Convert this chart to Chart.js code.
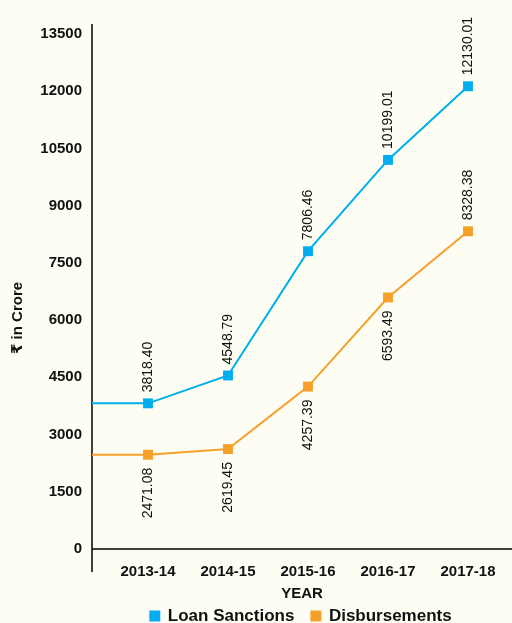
<!DOCTYPE html>
<html><head><meta charset="utf-8">
<script src="https://cdn.jsdelivr.net/npm/chart.js@4.4.0/dist/chart.umd.min.js"></script>
<style>
html,body{margin:0;padding:0;background:#FEFDF3;}
#wrap{width:512px;height:623px;position:relative;}
</style></head><body>
<div id="wrap"><canvas id="c" width="512" height="623"></canvas></div>
<script>
// ---- data ----
const categories = ['2013-14', '2014-15', '2015-16', '2016-17', '2017-18'];
const loanSanctions = [3818.40, 4548.79, 7806.46, 10199.01, 12130.01];
const disbursements = [2471.08, 2619.45, 4257.39, 6593.49, 8328.38];
const yTicks = [0, 1500, 3000, 4500, 6000, 7500, 9000, 10500, 12000, 13500];
const seriesNames = ['Loan Sanctions', 'Disbursements'];
const yTitle = '₹ in Crore';
const xTitle = 'YEAR';

// ---- style ----
const FONT = '"Liberation Sans", Arial, "DejaVu Sans", sans-serif';
const BLUE = '#00AEEF';
const ORANGE = '#F5A02A';
const X_MIN = -0.7, X_MAX = 4.55;
const labelPlacement = [
  ['above', 'above', 'above', 'above', 'above'],
  ['below', 'below', 'below', 'below', 'above']
];

function toPoints(values) {
  // line enters from the value axis at the first value
  return [{x: X_MIN, y: values[0]}].concat(values.map((v, i) => ({x: i, y: v})));
}

const labelPlugin = {
  id: 'vlabels',
  afterDatasetsDraw(chart) {
    const ctx = chart.ctx;
    chart.data.datasets.forEach((ds, di) => {
      const meta = chart.getDatasetMeta(di);
      meta.data.forEach((pt, i) => {
        if (i === 0) return;
        const v = ds.data[i].y;
        const txt = v.toFixed(2);
        ctx.save();
        ctx.translate(pt.x, pt.y);
        ctx.rotate(-Math.PI / 2);
        ctx.font = '14px ' + FONT;
        ctx.fillStyle = '#111';
        ctx.textBaseline = 'middle';
        if (labelPlacement[di][i - 1] === 'above') {
          ctx.textAlign = 'left';
          ctx.fillText(txt, 11, 0);
        } else {
          ctx.textAlign = 'right';
          ctx.fillText(txt, -13, 0);
        }
        ctx.restore();
      });
    });
  }
};

const axisPlugin = {
  id: 'axisdeco',
  afterLayout(chart) {
    const lg = chart.legend;
    if (lg) {
      lg.left += 90;
      lg.top = chart.chartArea.bottom + 67 - 17 - 8.5;
    }
  },
  beforeDatasetsDraw(chart) {
    const {ctx, chartArea} = chart;
    ctx.save();
    ctx.strokeStyle = '#000';
    ctx.lineWidth = 1.5;
    ctx.beginPath();
    ctx.moveTo(chartArea.left, chartArea.top - 10);
    ctx.lineTo(chartArea.left, chartArea.bottom + 23);
    ctx.moveTo(chartArea.left, chartArea.bottom);
    ctx.lineTo(chartArea.right, chartArea.bottom);
    ctx.stroke();
    // y title
    ctx.translate(18, 318);
    ctx.rotate(-Math.PI / 2);
    ctx.font = 'bold 15px ' + FONT;
    ctx.fillStyle = '#111';
    ctx.textAlign = 'center';
    ctx.textBaseline = 'middle';
    ctx.fillText(yTitle, 0, 0);
    ctx.restore();
  }
};

new Chart(document.getElementById('c'), {
  type: 'line',
  data: {
    datasets: [
      {
        label: seriesNames[0],
        data: toPoints(loanSanctions),
        borderColor: BLUE, backgroundColor: BLUE,
        borderWidth: 2, tension: 0,
        pointStyle: 'rect',
        pointRadius: c => c.dataIndex === 0 ? 0 : 7,
        pointBorderWidth: 0,
        pointBackgroundColor: BLUE
      },
      {
        label: seriesNames[1],
        data: toPoints(disbursements),
        borderColor: ORANGE, backgroundColor: ORANGE,
        borderWidth: 2, tension: 0,
        pointStyle: 'rect',
        pointRadius: c => c.dataIndex === 0 ? 0 : 7,
        pointBorderWidth: 0,
        pointBackgroundColor: ORANGE
      }
    ]
  },
  options: {
    responsive: false,
    animation: false,
    devicePixelRatio: 1,
    layout: {autoPadding: false, padding: {top: 34, bottom: -24, left: 0, right: 0}},
    plugins: {
      legend: {
        position: 'bottom',
        labels: {
          boxWidth: 9, boxHeight: 9, padding: 17,
          color: '#111',
          font: {family: FONT, size: 17, weight: 'bold'}
        }
      },
      tooltip: {enabled: false}
    },
    scales: {
      x: {
        type: 'linear', min: X_MIN, max: X_MAX,
        grid: {display: false, drawTicks: false},
        border: {display: false},
        afterBuildTicks: s => { s.ticks = categories.map((c, i) => ({value: i})); },
        afterFit: s => { s.height = 54; s.paddingLeft = 0; s.paddingRight = 0; },
        ticks: {
          padding: 14, autoSkip: false, maxRotation: 0,
          color: '#111', font: {family: FONT, size: 15, weight: 'bold'},
          callback: v => categories[v]
        },
        title: {display: true, text: xTitle, color: '#111',
          font: {family: FONT, size: 15, weight: 'bold'}, padding: {top: 6, bottom: 0}}
      },
      y: {
        min: 0, max: 13500,
        grid: {display: false, drawTicks: false},
        border: {display: false},
        afterBuildTicks: s => { s.ticks = yTicks.map(v => ({value: v})); },
        afterFit: s => { s.width = 92; },
        ticks: {
          padding: 10, color: '#111',
          font: {family: FONT, size: 15, weight: 'bold'},
          callback: v => String(v)
        }
      }
    }
  },
  plugins: [labelPlugin, axisPlugin]
});
</script>
</body></html>
